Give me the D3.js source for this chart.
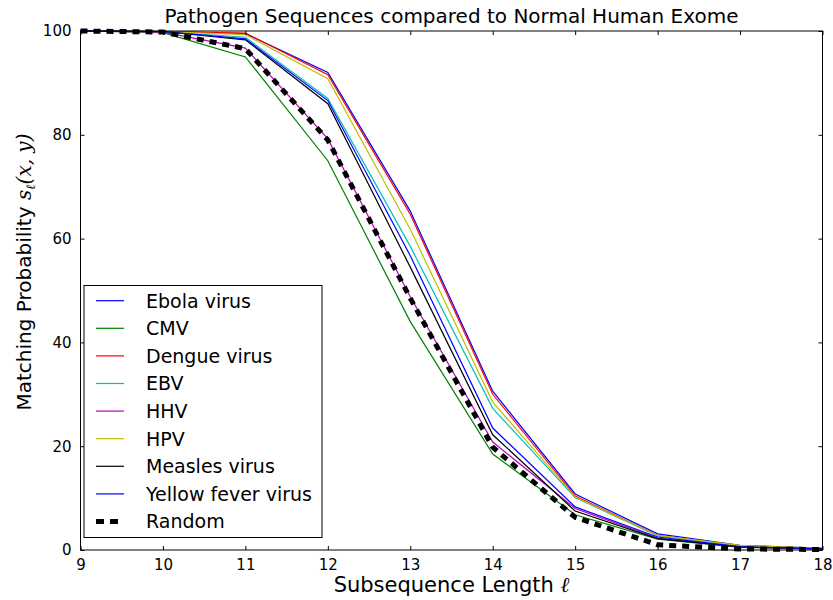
<!DOCTYPE html>
<html>
<head>
<meta charset="utf-8">
<script src="https://cdn.jsdelivr.net/npm/d3@7"></script>
<style>
  body { margin: 0; background: #fff; }
  text { font-family: "DejaVu Sans", sans-serif; fill: #000; }
</style>
</head>
<body>
<svg></svg>
<script>
width = 833;
height = 600;

// subsequence lengths
let lengths = [9, 10, 11, 12, 13, 14, 15, 16, 17, 18];

let names = ["Ebola virus", "CMV", "Dengue virus", "EBV", "HHV", "HPV", "Measles virus", "Yellow fever virus", "Random"];
let colors = ["#0000ff", "#008000", "#ff0000", "#00bfbf", "#bf00bf", "#bfbf00", "#000000", "#0000ff", "#000000"];

let ebola    = [100, 99.9, 99.5, 92.0, 65.3, 30.6, 10.8, 3.1, 0.9, 0.3];
let cmv      = [100, 99.7, 95.0, 75.0, 44.0, 18.5, 6.8, 2.1, 0.5, 0.2];
let dengue   = [100, 99.9, 99.6, 91.6, 64.7, 30.0, 10.4, 2.8, 0.8, 0.3];
let ebv      = [100, 99.9, 98.8, 87.0, 58.5, 27.3, 10.1, 2.7, 0.7, 0.2];
let hhv      = [100, 99.8, 96.7, 79.2, 48.8, 20.8, 8.0, 2.3, 0.6, 0.2];
let hpv      = [100, 99.9, 99.3, 90.8, 61.8, 28.5, 10.2, 2.8, 0.9, 0.3];
let measles  = [100, 99.9, 98.3, 86.0, 54.5, 22.2, 7.5, 2.2, 0.6, 0.2];
let yellow   = [100, 99.9, 98.5, 86.6, 56.7, 23.5, 8.3, 2.5, 0.6, 0.2];
let random   = [100, 99.8, 96.6, 79.0, 48.5, 19.8, 6.3, 1.0, 0.2, 0.1];

let series = [ebola, cmv, dengue, ebv, hhv, hpv, measles, yellow, random];

let xTicks = [9, 10, 11, 12, 13, 14, 15, 16, 17, 18];
let yTicks = [0, 20, 40, 60, 80, 100];

let svg = d3.select("svg").attr("width", width).attr("height", height);

let pLeft = 80.5, pRight = 822.5, pTop = 31, pBottom = 550;

let x = d3.scaleLinear().domain([9, 18]).range([pLeft, pRight]);
let y = d3.scaleLinear().domain([0, 100]).range([pBottom, pTop]);

// lines
let line = d3.line()
    .x((d, i) => x(lengths[i]))
    .y(d => y(d));

let plot = svg.append("g");

series.forEach(function(s, k) {
    let p = plot.append("path")
        .attr("d", line(s))
        .style("fill", "none")
        .style("stroke", colors[k])
        .style("stroke-width", 1.2);
    if (names[k] == "Random") {
        p.style("stroke-width", 5)
         .style("stroke-dasharray", "7,6");
    }
});

// frame
svg.append("rect")
    .attr("x", pLeft)
    .attr("y", pTop)
    .attr("width", pRight - pLeft)
    .attr("height", pBottom - pTop)
    .style("fill", "none")
    .style("stroke", "#000")
    .style("stroke-width", 1);

// axes, ticks inside on all four sides
svg.append("g")
    .attr("transform", "translate(0," + pBottom + ")")
    .call(d3.axisBottom(x).tickValues(xTicks).tickSizeInner(-4).tickSizeOuter(0).tickPadding(9));
svg.append("g")
    .attr("transform", "translate(0," + pTop + ")")
    .call(d3.axisTop(x).tickValues(xTicks).tickSizeInner(-4).tickSizeOuter(0).tickFormat(""));
svg.append("g")
    .attr("transform", "translate(" + pLeft + ",0)")
    .call(d3.axisLeft(y).tickValues(yTicks).tickSizeInner(-4).tickSizeOuter(0).tickPadding(9));
svg.append("g")
    .attr("transform", "translate(" + pRight + ",0)")
    .call(d3.axisRight(y).tickValues(yTicks).tickSizeInner(-4).tickSizeOuter(0).tickFormat(""));

svg.selectAll(".domain").remove();
svg.selectAll(".tick line").style("stroke", "#000");
svg.selectAll(".tick text")
    .style("font-family", "DejaVu Sans")
    .style("font-size", "15px");

// title
svg.append("text")
    .attr("x", (pLeft + pRight) / 2)
    .attr("y", 23)
    .attr("text-anchor", "middle")
    .style("font-size", "20px")
    .text("Pathogen Sequences compared to Normal Human Exome");

// x label
let xl = svg.append("text")
    .attr("x", (pLeft + pRight) / 2)
    .attr("y", 592)
    .attr("text-anchor", "middle")
    .style("font-size", "21px");
xl.append("tspan").text("Subsequence Length ");
xl.append("tspan")
    .style("font-family", "DejaVu Serif")
    .style("font-style", "italic")
    .text("ℓ");

// y label
let yl = svg.append("text")
    .attr("transform", "translate(31," + 272 + ") rotate(-90)")
    .attr("text-anchor", "middle")
    .style("font-size", "20px");
yl.append("tspan").text("Matching Probability ");
yl.append("tspan")
    .style("font-family", "DejaVu Serif")
    .style("font-style", "italic")
    .text("s");
yl.append("tspan")
    .style("font-family", "DejaVu Serif")
    .style("font-style", "italic")
    .style("font-size", "13px")
    .attr("dy", 4)
    .text("ℓ");
yl.append("tspan")
    .style("font-family", "DejaVu Serif")
    .style("font-style", "italic")
    .attr("dy", -4)
    .text("(x, y)");

// legend
let legend = svg.append("g");
legend.append("rect")
    .attr("x", 84)
    .attr("y", 285.5)
    .attr("width", 238)
    .attr("height", 252)
    .style("fill", "#fff")
    .style("stroke", "#000")
    .style("stroke-width", 1);

names.forEach(function(n, k) {
    let ly = 300.7 + k * 27.6;
    let l = legend.append("line")
        .attr("x1", 96)
        .attr("x2", 124)
        .attr("y1", ly)
        .attr("y2", ly)
        .style("stroke", colors[k])
        .style("stroke-width", 1.2);
    if (n == "Random") {
        l.style("stroke-width", 5).style("stroke-dasharray", "8,6");
    }
    legend.append("text")
        .attr("x", 146)
        .attr("y", ly + 6.8)
        .style("font-size", "19px")
        .text(n);
});
</script>
</body>
</html>
